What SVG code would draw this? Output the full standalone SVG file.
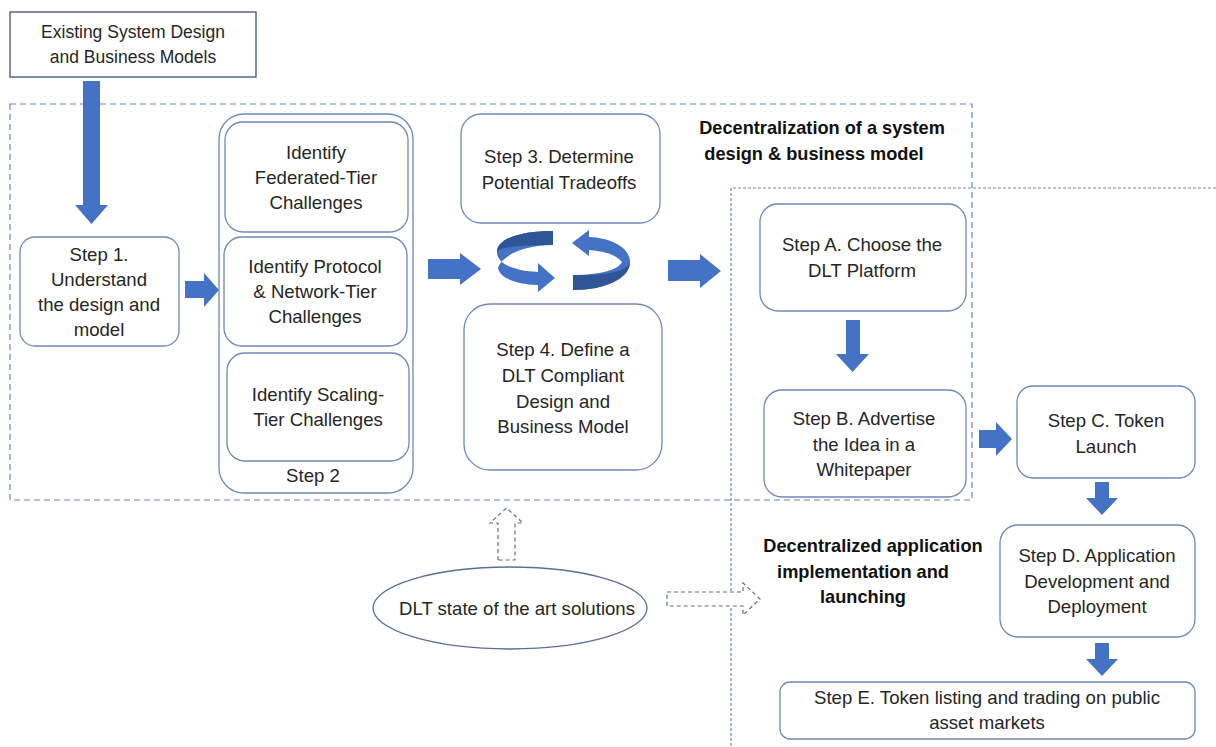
<svg xmlns="http://www.w3.org/2000/svg" width="1216" height="747" viewBox="0 0 1216 747">
  <style>
    .box { fill: #ffffff; stroke: #7088b8; stroke-width: 1.3; }
    .plain { fill: #ffffff; stroke: #3f5078; stroke-width: 1.3; }
    .t { font-family: "Liberation Sans", Arial, sans-serif; font-size: 18.6px; fill: #262626; text-anchor: middle; }
    .t2 { font-family: "Liberation Sans", Arial, sans-serif; font-size: 17.5px; fill: #262626; text-anchor: middle; }
    .b { font-family: "Liberation Sans", Arial, sans-serif; font-size: 18.2px; font-weight: bold; fill: #111111; text-anchor: middle; }
    .zone1 { fill: none; stroke: #6a88bb; stroke-width: 1.2; stroke-dasharray: 6 4; }
    .zone2 { fill: none; stroke: #6a88bb; stroke-width: 1.2; stroke-dasharray: 3 2; }
    .blk { fill: #4472c4; }
    .dk { fill: #2f5597; }
    .ghost { fill: #ffffff; stroke: #5a6f9a; stroke-width: 1.2; stroke-dasharray: 4 3; }
  </style>

  <!-- phase zones -->
  <g id="zones">
    <rect class="zone1" x="10" y="104" width="962" height="396"/>
    <path class="zone2" d="M1216,188 H731 V747"/>
    <text class="b" x="822" y="134">Decentralization of a system</text>
    <text class="b" x="814" y="160">design &amp; business model</text>
    <text class="b" x="873" y="552">Decentralized application</text>
    <text class="b" x="863" y="578">implementation and</text>
    <text class="b" x="863" y="603">launching</text>
  </g>

  <!-- block arrows and loop -->
  <g id="connectors">
    <path class="blk" d="M83,81 H100 V205 H108 L91.5,224 L75,205 H83 Z"/>
    <path class="blk" d="M185,281 H204 V273 L219,290 L204,307 V298 H185 Z"/>
    <path class="blk" d="M428,259 H460 V253 L481,269 L460,285 V279 H428 Z"/>
    <path class="blk" d="M668,260 H700 V254 L721,271 L700,288 V281 H668 Z"/>
    <path class="blk" d="M846,320 H860 V354 H869 L852.5,372 L836,354 H846 Z"/>
    <path class="blk" d="M979,430 H996 V422 L1012,439 L996,456 V448 H979 Z"/>
    <path class="blk" d="M1095,482 H1109 V498 H1118 L1102,515 L1086,498 H1095 Z"/>
    <path class="blk" d="M1095,643 H1109 V659 H1118 L1102,676 L1086,659 H1095 Z"/>

    <!-- circular tradeoff loop -->
    <path class="blk" d="M553,231 C522,231 497,238 497,252 C497,263 512,271 538,272 L538,263 L555,278 L538,292 L538,285 C515,284 500,278 498,268 C502,255 525,245 553,245 Z"/>
    <path class="dk" d="M553,231 C522,231 497,238 497,252 C499,247 520,245 553,245 Z"/>
    <path class="blk" d="M572,243 L589,230 L589,237 C612,238 630,248 630,262 C630,278 606,290 573,290 L573,275 C600,275 618,270 622,262 C615,254 603,251 589,250 L589,256 Z"/>
    <path class="dk" d="M573,290 C606,290 630,278 630,262 C627,272 605,276 573,275 Z"/>

    <!-- dashed hint arrows -->
    <path class="ghost" d="M498,560 V523 H490 L506.5,508 L523,523 H515 V560 Z"/>
    <path class="ghost" d="M667,592 H743 V583 L760,599 L743,615 V606 H667 Z"/>
  </g>

  <g id="existing">
    <rect class="plain" x="10" y="12" width="246" height="65"/>
    <text class="t2" x="133" y="38">Existing System Design</text>
    <text class="t2" x="133" y="63">and Business Models</text>
  </g>

  <g id="step1">
    <rect class="box" x="20" y="237" width="159" height="109" rx="15"/>
    <text class="t" x="99" y="261">Step 1.</text>
    <text class="t" x="99" y="286">Understand</text>
    <text class="t" x="99" y="311">the design and</text>
    <text class="t" x="99" y="336">model</text>
  </g>

  <g id="step2">
    <rect class="box" x="219" y="114" width="194" height="379" rx="25"/>
    <text class="t" x="313" y="482">Step 2</text>
  </g>

  <g id="federated">
    <rect class="box" x="225" y="122" width="183" height="110" rx="18"/>
    <text class="t" x="316" y="159">Identify</text>
    <text class="t" x="316" y="184">Federated-Tier</text>
    <text class="t" x="316" y="209">Challenges</text>
  </g>

  <g id="protocol">
    <rect class="box" x="224" y="237" width="183" height="109" rx="18"/>
    <text class="t" x="315" y="273">Identify Protocol</text>
    <text class="t" x="315" y="298">&amp; Network-Tier</text>
    <text class="t" x="315" y="323">Challenges</text>
  </g>

  <g id="scaling">
    <rect class="box" x="227" y="353" width="182" height="108" rx="18"/>
    <text class="t" x="318" y="401">Identify Scaling-</text>
    <text class="t" x="318" y="426">Tier Challenges</text>
  </g>

  <g id="step3">
    <rect class="box" x="461" y="114" width="199" height="109" rx="20"/>
    <text class="t" x="559" y="163">Step 3. Determine</text>
    <text class="t" x="559" y="189">Potential Tradeoffs</text>
  </g>

  <g id="step4">
    <rect class="box" x="464" y="304" width="198" height="166" rx="26"/>
    <text class="t" x="563" y="356">Step 4. Define a</text>
    <text class="t" x="563" y="382">DLT Compliant</text>
    <text class="t" x="563" y="408">Design and</text>
    <text class="t" x="563" y="433">Business Model</text>
  </g>

  <g id="stepA">
    <rect class="box" x="760" y="204" width="206" height="107" rx="18"/>
    <text class="t" x="862" y="251">Step A. Choose the</text>
    <text class="t" x="862" y="277">DLT Platform</text>
  </g>

  <g id="stepB">
    <rect class="box" x="764" y="390" width="202" height="107" rx="18"/>
    <text class="t" x="864" y="425">Step B. Advertise</text>
    <text class="t" x="864" y="451">the Idea in a</text>
    <text class="t" x="864" y="476">Whitepaper</text>
  </g>

  <g id="stepC">
    <rect class="box" x="1017" y="386" width="178" height="92" rx="16"/>
    <text class="t" x="1106" y="427">Step C. Token</text>
    <text class="t" x="1106" y="453">Launch</text>
  </g>

  <g id="stepD">
    <rect class="box" x="1000" y="525" width="195" height="112" rx="18"/>
    <text class="t" x="1097" y="562">Step D. Application</text>
    <text class="t" x="1097" y="588">Development and</text>
    <text class="t" x="1097" y="613">Deployment</text>
  </g>

  <g id="stepE">
    <rect class="box" x="780" y="682" width="415" height="57" rx="10"/>
    <text class="t" x="987" y="704">Step E. Token listing and trading on public</text>
    <text class="t" x="987" y="729">asset markets</text>
  </g>

  <g id="stateOfArt">
    <ellipse class="box" cx="510" cy="608" rx="137" ry="41" style="stroke:#5a6f9a"/>
    <text class="t" x="517" y="615">DLT state of the art solutions</text>
  </g>
</svg>
